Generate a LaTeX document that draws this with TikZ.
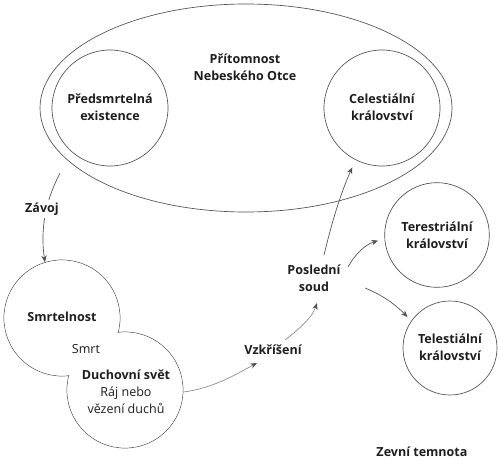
\documentclass[tikz,border=0pt]{standalone}
\usepackage{fontspec}
\setmainfont{Open Sans}
\usetikzlibrary{arrows.meta,shapes.geometric}
\definecolor{linegray}{HTML}{505050}
\definecolor{lightline}{HTML}{8A8A8A}
\definecolor{txt}{HTML}{1E1E1E}
\begin{document}
\begin{tikzpicture}[x=0.75pt,y=-0.75pt,
  bubble/.style={circle,draw=linegray,line width=0.5pt,inner sep=0pt},
  lbl/.style={font=\bfseries\fontsize{9.4}{12.8}\selectfont,align=center,text=txt,inner sep=1pt},
  plain/.style={font=\fontsize{9.4}{12.8}\selectfont,align=center,text=txt,inner sep=1pt},
  conn/.style={draw=linegray,line width=0.5pt,-{Stealth[length=5pt,width=4pt]}},
  connlight/.style={draw=lightline,line width=0.5pt,-{Stealth[length=5pt,width=4pt,color=linegray]}}
]
\useasboundingbox (0,0) rectangle (500,467);

% heaven
\node[ellipse,draw=linegray,line width=0.5pt,minimum width=309pt,minimum height=156pt,inner sep=0pt] (heaven) at (246,108) {};
\node[lbl] (heavenT) at (245,67) {Přítomnost\\Nebeského Otce};

\node[bubble,minimum size=87pt] (pre) at (110,108) {};
\node[lbl] (preT) at (110,107) {Předsmrtelná\\existence};

\node[bubble,minimum size=87pt] (cel) at (382,108) {};
\node[lbl] (celT) at (382,107) {Celestiální\\království};

\node[bubble,minimum size=78.5pt] (ter) at (437,235) {};
\node[lbl] (terT) at (437,235) {Terestriální\\království};

\node[bubble,minimum size=70.5pt] (tel) at (450,348) {};
\node[lbl] (telT) at (450,347) {Telestiální\\království};

% mortality and spirit world (overlapping, lens borderless)
\node[bubble,minimum size=87pt] (smrt) at (62,318) {};
\node[bubble,minimum size=87pt] (duch) at (125,390) {};
\fill[white] (smrt.center) circle[radius=43.2pt];
\fill[white] (duch.center) circle[radius=43.2pt];
\node[lbl] (smrtT) at (62,317) {Smrtelnost};
\node[plain] (smrtl) at (86,349) {Smrt};
\node[plain] (duchT) at (126,392) {\textbf{Duchovní svět}\\Ráj nebo\\vězení duchů};

% labels
\node[lbl] (soud) at (314,278) {Poslední\\soud};
\node[lbl] (vzk) at (273,350) {Vzkříšení};
\node[lbl] (temno) at (422,452) {Zevní temnota};

% Zavoj
\coordinate (zs) at (60,173);
\draw[conn] (zs) .. controls (46,200) and (40,228) .. (smrt.107);
\node[lbl,fill=white,inner sep=2pt] (zav) at (42,209) {Závoj};

% Resurrection arrows
\coordinate (v1) at (257,363);
\coordinate (v2) at (285,340);
\coordinate (s0) at (317,303);
\draw[connlight] (duch.-2) .. controls (215,388) and (240,372) .. (v1);
\draw[connlight] (v2) .. controls (298,330) and (312,318) .. (s0);

% judgement arrows
\coordinate (a1) at (324,255);
\coordinate (a2) at (348,267);
\coordinate (a3) at (365,288);
\draw[conn,shorten >=6pt] (a1) .. controls (332,222) and (340,195) .. (cel.243);
\draw[conn,shorten >=5pt] (a2) .. controls (354,256) and (364,245) .. (ter.184);
\draw[conn,shorten >=4pt] (a3) .. controls (380,294) and (394,303) .. (tel.145);
\end{tikzpicture}
\end{document}
